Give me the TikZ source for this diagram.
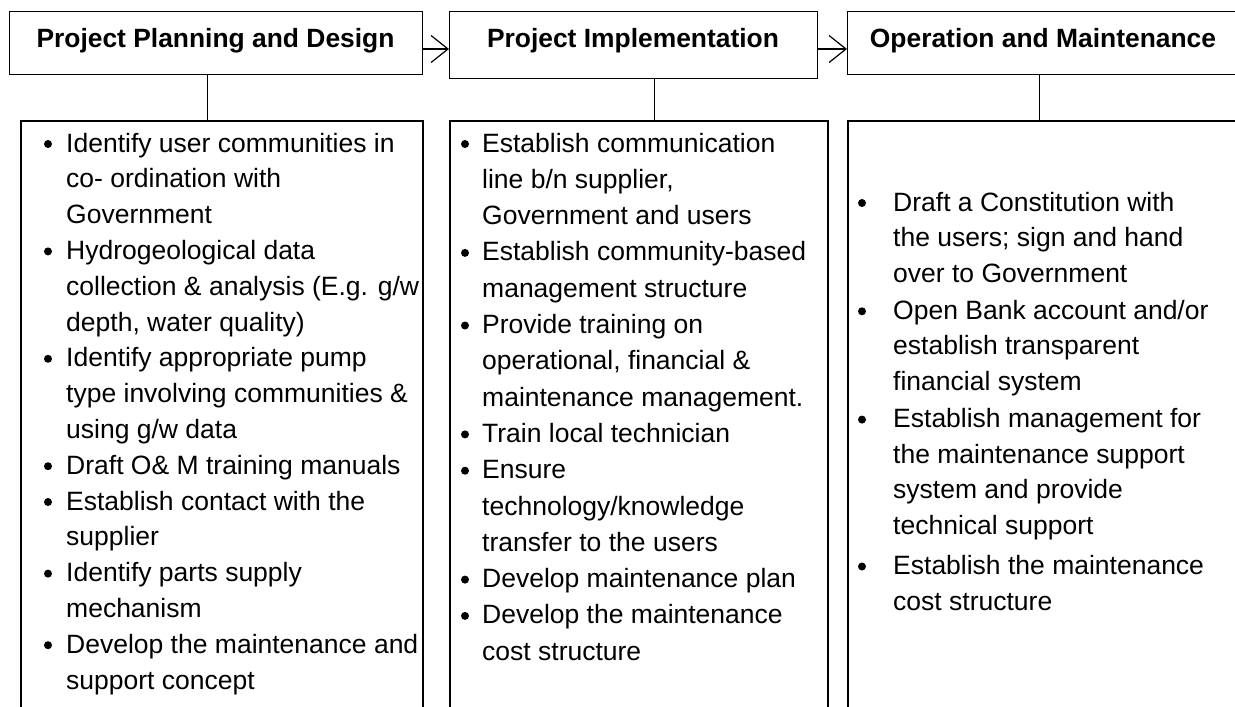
\documentclass[tikz,border=0pt]{standalone}
\usepackage{fontspec}
\setmainfont{Liberation Sans}
\usetikzlibrary{arrows.meta,shapes.geometric}
\newcommand\pline[4]{\node[ln] (#1) at (#2,#3) {#4};}
\newcommand\pbul[3]{\node[bul] (#1) at (#2,#3-8) {};}
\begin{document}
\begin{tikzpicture}[x=1pt,y=-1pt,
 hdrbox/.style={draw, line width=1pt, inner sep=0, anchor=north west},
 bodybox/.style={draw, line width=2pt, inner sep=0, anchor=north west},
 hdrtxt/.style={font=\fontsize{26.4}{30}\selectfont\bfseries, anchor=base, inner sep=0},
 ln/.style={font=\fontsize{26.5}{30}\selectfont, anchor=base west, inner sep=0},
 bul/.style={circle, fill, inner sep=0, minimum size=8pt},
 flow/.style={line width=1.2pt, -{Straight Barb[length=17pt,width=27pt,line width=1.2pt]}},
 link/.style={line width=1pt}]
\useasboundingbox (0,0) rectangle (1235,707);
\clip (0,0) rectangle (1235,707);
\fill[white] (0,0) rectangle (1235,707);
% headers
\node[hdrbox, minimum width=413, minimum height=63] (h1) at (9,11) {};
\node[hdrbox, minimum width=368, minimum height=67] (h2) at (449,11) {};
\node[hdrbox, minimum width=392, minimum height=63] (h3) at (847,11) {};
\node[hdrtxt] (t1) at (215.5,47) {Project Planning and Design};
\node[hdrtxt] (t2) at (633,47) {Project Implementation};
\node[hdrtxt] (t3) at (1043,47) {Operation and Maintenance};
% bodies
\node[bodybox, minimum width=402, minimum height=620] (b1) at (20,120) {};
\node[bodybox, minimum width=378, minimum height=620] (b2) at (449,120) {};
\node[bodybox, minimum width=400, minimum height=620] (b3) at (847,120) {};
% connectors
\coordinate (ay) at (0,49);
\draw[flow] (h1.east |- ay) -- (h2.west |- ay);
\draw[flow] (h2.east |- ay) -- (h3.west |- ay);
\coordinate (c1) at (207,0);
\coordinate (c2) at (654,0);
\coordinate (c3) at (1039,0);
\draw[link] (h1.south -| c1) -- (b1.north -| c1);
\draw[link] (h2.south -| c2) -- (b2.north -| c2);
\draw[link] (h3.south -| c3) -- (b3.north -| c3);
% body 1
\pbul{ba0}{48}{152}
\pline{la0}{66}{152}{Identify user communities in}
\pline{la1}{66}{187.8}{co- ordination with}
\pline{la2}{66}{223.6}{Government}
\pbul{ba3}{48}{259.4}
\pline{la3}{66}{259.4}{Hydrogeological data}
\pline{la4}{66}{295.2}{collection \& analysis (E.g. g/w}
\pline{la5}{66}{331}{depth, water quality)}
\pbul{ba6}{48}{366.8}
\pline{la6}{66}{366.8}{Identify appropriate pump}
\pline{la7}{66}{402.6}{type involving communities \&}
\pline{la8}{66}{438.4}{using g/w data}
\pbul{ba9}{48}{474.2}
\pline{la9}{66}{474.2}{Draft O\& M training manuals}
\pbul{ba10}{48}{510}
\pline{la10}{66}{510}{Establish contact with the}
\pline{la11}{66}{545.8}{supplier}
\pbul{ba12}{48}{581.6}
\pline{la12}{66}{581.6}{Identify parts supply}
\pline{la13}{66}{617.4}{mechanism}
\pbul{ba14}{48}{653.2}
\pline{la14}{66}{653.2}{Develop the maintenance and}
\pline{la15}{66}{689}{support concept}
% body 2
\pbul{bb0}{465}{152}
\pline{lb0}{482}{152}{Establish communication}
\pline{lb1}{482}{188.3}{line b/n supplier,}
\pline{lb2}{482}{224.6}{Government and users}
\pbul{bb3}{465}{260.9}
\pline{lb3}{482}{260.9}{Establish community-based}
\pline{lb4}{482}{297.2}{management structure}
\pbul{bb5}{465}{333.5}
\pline{lb5}{482}{333.5}{Provide training on}
\pline{lb6}{482}{369.8}{operational, financial \&}
\pline{lb7}{482}{406.1}{maintenance management.}
\pbul{bb8}{465}{442.4}
\pline{lb8}{482}{442.4}{Train local technician}
\pbul{bb9}{465}{478.7}
\pline{lb9}{482}{478.7}{Ensure}
\pline{lb10}{482}{515}{technology/knowledge}
\pline{lb11}{482}{551.3}{transfer to the users}
\pbul{bb12}{465}{587.6}
\pline{lb12}{482}{587.6}{Develop maintenance plan}
\pbul{bb13}{465}{623.9}
\pline{lb13}{482}{623.9}{Develop the maintenance}
\pline{lb14}{482}{660.2}{cost structure}
% body 3
\pbul{bc0}{862}{211}
\pline{lc0}{893}{211}{Draft a Constitution with}
\pline{lc1}{893}{246.6}{the users; sign and hand}
\pline{lc2}{893}{282.2}{over to Government}
\pbul{bc3}{862}{319.3}
\pline{lc3}{893}{319.3}{Open Bank account and/or}
\pline{lc4}{893}{354.9}{establish transparent}
\pline{lc5}{893}{390.5}{financial system}
\pbul{bc6}{862}{427.6}
\pline{lc6}{893}{427.6}{Establish management for}
\pline{lc7}{893}{463.2}{the maintenance support}
\pline{lc8}{893}{498.8}{system and provide}
\pline{lc9}{893}{534.4}{technical support}
\pbul{bc10}{862}{574.5}
\pline{lc10}{893}{574.5}{Establish the maintenance}
\pline{lc11}{893}{610}{cost structure}
\end{tikzpicture}
\end{document}
